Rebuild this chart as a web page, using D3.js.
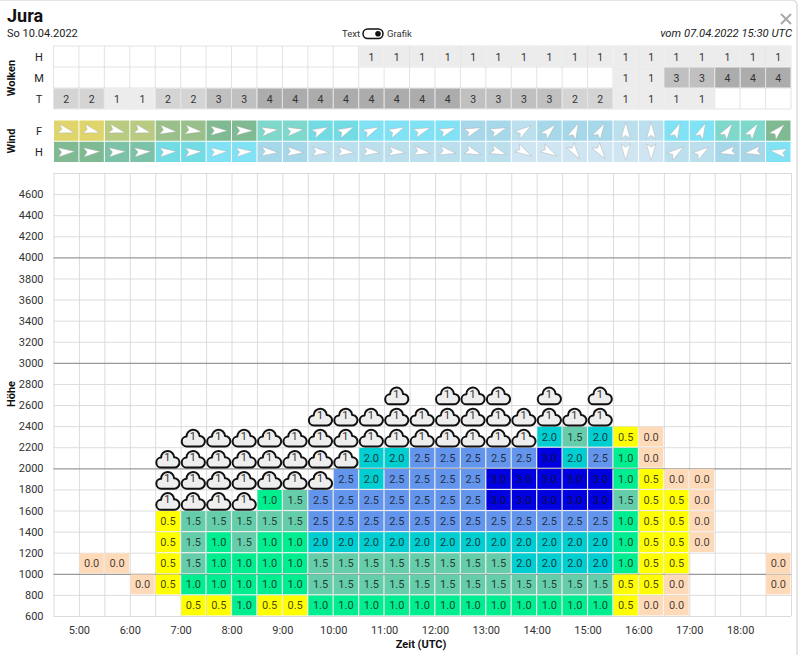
<!DOCTYPE html>
<html>
<head>
<meta charset="utf-8">
<script src="https://cdn.jsdelivr.net/npm/d3@7"></script>
<style>
  body { margin: 0; background: #fff; }
  text { font-family: Roboto, sans-serif; }
</style>
</head>
<body>
<script>
const w = 800;
const h = 655;
const n = null;
const C = "C"; // cell holds a cloud instead of a climb value

const hourTicks = [5, 6, 7, 8, 9, 10, 11, 12, 13, 14, 15, 16, 17, 18];
const heightTicks = d3.range(600, 4601, 200);
const heavyLines = [1000, 2000, 3000, 4000];

// clouds per half hour, 4:30 to 18:30
const cloudHigh = [n,n,n,n,n,n,n,n,n,n,n,n,1,1,1,1,1,1,1,1,1,1,1,1,1,1,1,1,1];
const cloudMid  = [n,n,n,n,n,n,n,n,n,n,n,n,n,n,n,n,n,n,n,n,n,n,1,1,3,3,4,4,4];
const cloudLow  = [2,2,1,1,2,2,3,3,4,4,4,4,4,4,4,4,3,3,3,3,2,2,1,1,1,1,n,n,n];

// wind class and direction (deg clockwise from east, the way the arrow points)
const windClassF = [10,10,9,9,8,8,7,7,6,6,5,5,4,4,4,4,3,3,2,3,3,3,2,2,4,4,6,6,7];
const windClassH = [7,7,6.5,6.5,5,5,4,4,3,3,2,2,2,2,2,2,2,2,1,1,1,1,1,1,2,2,3,3,4];
const windDirF = [15,15,15,15,8,8,0,0,-8,-8,-25,-25,-25,-25,-20,-20,-20,-20,-35,-45,-65,-60,-90,-90,-65,-65,-55,-55,-45];
const windDirH = [-3,-3,-3,-3,-3,-3,-3,-3,4,4,4,4,5,5,10,10,20,20,30,30,55,55,90,90,-35,-35,170,170,190];

const windClasses = [1, 2, 3, 4, 5, 6, 6.5, 7, 8, 9, 10];
const windColors = ["#cfe5f2", "#bcdfee", "#a6d8e9", "#80e2f4", "#72dbe4", "#7fd8cc", "#7cc2a6", "#7fba92", "#99c08a", "#b8cb80", "#e0d56a"];

const cloudGreys = d3.scaleOrdinal().domain([1, 2, 3, 4]).range(["#ececec", "#d4d4d4", "#c0c0c0", "#acacac"]);
const climbColor = d3.scaleOrdinal()
  .domain([0, 0.5, 1, 1.5, 2, 2.5, 3])
  .range(["#ffdab9", "#ffff00", "#00ee90", "#66cdaa", "#00ced1", "#6495ed", "#0000e0"]);

// climb per height band, bottom of the band -> values per half hour
const band600  = [n,n,n,n,n,.5,.5,1,.5,.5,1,1,1,1,1,1,1,1,1,1,1,1,.5,0,0,n,n,n,n];
const band800  = [n,n,n,0,.5,1,1,1,1,1,1.5,1.5,1.5,1.5,1.5,1.5,1.5,1.5,1.5,1.5,1.5,1.5,.5,.5,0,n,n,n,0];
const band1000 = [n,0,0,n,.5,1.5,1,1,1,1,1.5,1.5,1.5,1.5,1.5,1.5,1.5,1.5,2,2,2,2,1,.5,.5,n,n,n,0];
const band1200 = [n,n,n,n,.5,1.5,1,1.5,1,1,2,2,2,2,2,2,2,2,2,2,2,2,1,.5,.5,0,n,n,n];
const band1400 = [n,n,n,n,.5,1.5,1.5,1.5,1.5,1.5,2.5,2.5,2.5,2.5,2.5,2.5,2.5,2.5,2.5,2.5,2.5,2.5,1,.5,.5,0,n,n,n];
const band1600 = [n,n,n,n,C,C,C,C,1,1.5,2.5,2.5,2.5,2.5,2.5,2.5,2.5,3,3,3,3,3,1.5,.5,.5,0,n,n,n];
const band1800 = [n,n,n,n,C,C,C,C,C,C,C,2.5,2,2.5,2.5,2.5,2.5,3,3,3,3,3,1,.5,0,0,n,n,n];
const band2000 = [n,n,n,n,C,C,C,C,C,C,C,C,2,2,2.5,2.5,2.5,2.5,2.5,3,2,2.5,1,0,n,n,n,n,n];
const band2200 = [n,n,n,n,n,C,C,C,C,C,C,C,C,C,C,C,C,C,C,2,1.5,2,.5,0,n,n,n,n,n];
const band2400 = [n,n,n,n,n,n,n,n,n,n,C,C,C,C,C,C,C,C,C,C,C,C,n,n,n,n,n,n,n];
const band2600 = [n,n,n,n,n,n,n,n,n,n,n,n,n,C,n,C,C,C,n,C,n,C,n,n,n,n,n,n,n];
const bandBottoms = [600, 800, 1000, 1200, 1400, 1600, 1800, 2000, 2200, 2400, 2600];
const bands = [band600, band800, band1000, band1200, band1400, band1600, band1800, band2000, band2200, band2400, band2600];

const margin = {top: 173, right: 9, bottom: 39, left: 53.5};

const x = d3.scaleLinear().domain([4.5, 19]).range([margin.left, w - margin.right]);
const y = d3.scaleLinear().domain([600, 4800]).range([h - margin.bottom, margin.top]);
const colW = x(5) - x(4.5);
const halfHours = d3.range(4.5, 19.01, 0.5);

const svg = d3.select("body").append("svg")
  .attr("width", w)
  .attr("height", h)
  .style("display", "block");

// modal edge
svg.append("rect").attr("x", -6).attr("y", 0).attr("width", w + 3).attr("height", h + 20).attr("rx", 5)
  .attr("fill", "none").attr("stroke", "#ddd").attr("stroke-width", 1.5);

// header
svg.append("text").attr("x", 7).attr("y", 22).attr("font-size", 18).attr("font-weight", 700).attr("fill", "#111").text("Jura");
svg.append("text").attr("x", 7).attr("y", 37).attr("font-size", 11).attr("fill", "#222").text("So 10.04.2022");
svg.append("text").attr("x", 792).attr("y", 37).attr("text-anchor", "end").attr("font-size", 11.25).attr("font-style", "italic").attr("fill", "#222").text("vom 07.04.2022 15:30 UTC");
svg.append("text").attr("x", 342).attr("y", 37).attr("font-size", 9.5).attr("fill", "#333").text("Text");
svg.append("text").attr("x", 387).attr("y", 37).attr("font-size", 9.5).attr("fill", "#333").text("Grafik");
svg.append("rect").attr("x", 363).attr("y", 29).attr("width", 20).attr("height", 9.5).attr("rx", 4.7)
  .attr("fill", "#fff").attr("stroke", "#111").attr("stroke-width", 1.5);
svg.append("circle").attr("cx", 378).attr("cy", 33.7).attr("r", 2.8).attr("fill", "#111");
svg.append("path").attr("d", "M781,14L791,24M791,14L781,24").attr("stroke", "#aaa").attr("stroke-width", 2).attr("fill", "none");

// top tables
const rowY = d3.scaleBand().domain(["H", "M", "T"]).range([46, 109]);
const windY = d3.scaleBand().domain(["F", "H"]).range([120, 162.5]);

function tableGrid(top, bottom, rows) {
  const g = svg.append("g").attr("stroke", "#dcdcdc").attr("stroke-width", 0.8);
  g.selectAll("line.v").data(halfHours).join("line").attr("class", "v")
    .attr("x1", d => x(d)).attr("x2", d => x(d)).attr("y1", top).attr("y2", bottom);
  g.selectAll("line.h").data(rows).join("line").attr("class", "h")
    .attr("x1", x(4.5)).attr("x2", x(19)).attr("y1", d => d).attr("y2", d => d);
}
tableGrid(46, 109, [46, rowY("M"), rowY("T"), 109]);

[["H", cloudHigh], ["M", cloudMid], ["T", cloudLow]].forEach(([name, values]) => {
  const g = svg.append("g");
  const cells = values.map((v, i) => ({v, i})).filter(d => d.v !== n);
  g.selectAll("rect").data(cells).join("rect")
    .attr("x", d => x(4.5 + d.i / 2) + 0.5)
    .attr("y", rowY(name) + 0.5)
    .attr("width", colW - 1)
    .attr("height", rowY.bandwidth() - 1)
    .attr("fill", d => cloudGreys(d.v));
  g.selectAll("text").data(cells).join("text")
    .attr("x", d => x(4.5 + d.i / 2) + colW / 2)
    .attr("y", rowY(name) + rowY.bandwidth() / 2 + 4)
    .attr("text-anchor", "middle")
    .attr("font-size", 10.5)
    .attr("fill", "#333")
    .text(d => d.v);
});

const windColor = d3.scaleOrdinal().domain(windClasses).range(windColors);
const arrowPath = "M8.5,0L-8,-4.6L-4.6,0L-8,4.6Z";

[["F", windClassF, windDirF], ["H", windClassH, windDirH]].forEach(([name, classes, dirs]) => {
  const g = svg.append("g");
  const cells = classes.map((c, i) => ({c, i, dir: dirs[i]}));
  g.selectAll("rect").data(cells).join("rect")
    .attr("x", d => x(4.5 + d.i / 2) + 0.5)
    .attr("y", windY(name) + 0.5)
    .attr("width", colW - 1)
    .attr("height", windY.bandwidth() - 1)
    .attr("fill", d => windColor(d.c));
  g.selectAll("path").data(cells).join("path")
    .attr("d", arrowPath)
    .attr("transform", d => `translate(${x(4.5 + d.i / 2) + colW / 2},${windY(name) + windY.bandwidth() / 2}) rotate(${d.dir})`)
    .attr("fill", "#fff")
    .attr("stroke", "#aaa")
    .attr("stroke-width", 0.4);
});

// row names and titles
const sideLabels = svg.append("g").attr("font-size", 11).attr("fill", "#222").attr("text-anchor", "middle");
rowY.domain().forEach(d => sideLabels.append("text").attr("x", 39).attr("y", rowY(d) + rowY.bandwidth() / 2 + 4).text(d));
windY.domain().forEach(d => sideLabels.append("text").attr("x", 39).attr("y", windY(d) + windY.bandwidth() / 2 + 4).text(d));

[["Wolken", 78], ["Wind", 141], ["Höhe", 394]].forEach(([t, cy]) => {
  svg.append("text")
    .attr("transform", `translate(15,${cy}) rotate(-90)`)
    .attr("text-anchor", "middle")
    .attr("font-size", 11)
    .attr("font-weight", 700)
    .attr("fill", "#111")
    .text(t);
});

// main grid through the axes
const plotBottom = y(600);
const plotTop = y(4800);

const xGrid = svg.append("g").attr("transform", `translate(0,${plotBottom})`)
  .call(d3.axisBottom(x).tickValues(halfHours).tickSize(plotTop - plotBottom).tickFormat(""));
xGrid.select(".domain").remove();
xGrid.selectAll("line").attr("stroke", "#d8d8d8").attr("stroke-width", 0.9);

const yGrid = svg.append("g").attr("transform", `translate(${x(4.5)},0)`)
  .call(d3.axisRight(y).tickValues(d3.range(600, 4801, 200)).tickSize(x(19) - x(4.5)).tickFormat(""));
yGrid.select(".domain").remove();
yGrid.selectAll("line")
  .attr("stroke", d => heavyLines.includes(d) ? "#999" : "#d8d8d8")
  .attr("stroke-width", d => heavyLines.includes(d) ? 1.2 : 0.9);

// cells
const cellData = [];
bands.forEach((vals, b) => vals.forEach((v, i) => {
  if (v !== n) cellData.push({v, i, bottom: bandBottoms[b]});
}));
const climbCells = cellData.filter(d => d.v !== C);
const cloudCells = cellData.filter(d => d.v === C);

const cellG = svg.append("g");
cellG.selectAll("rect").data(climbCells).join("rect")
  .attr("x", d => x(4.5 + d.i / 2) + 0.6)
  .attr("y", d => y(d.bottom + 200) + 0.6)
  .attr("width", colW - 1.2)
  .attr("height", d => y(d.bottom) - y(d.bottom + 200) - 1.2)
  .attr("fill", d => climbColor(d.v));
cellG.selectAll("text").data(climbCells).join("text")
  .attr("x", d => x(4.5 + d.i / 2) + colW / 2)
  .attr("y", d => y(d.bottom + 100) + 4)
  .attr("text-anchor", "middle")
  .attr("font-size", 11)
  .attr("fill", "#111")
  .attr("fill-opacity", 0.8)
  .text(d => d.v.toFixed(1));

// clouds
const cloudPath = "M-6.5,9A5,5 0 0 1 -6.8,-1A6.5,6.5 0 0 1 6.2,-1.4A5.2,5.2 0 0 1 6.5,9Z";
const cloudG = svg.append("g");
cloudG.selectAll("path").data(cloudCells).join("path")
  .attr("d", cloudPath)
  .attr("transform", d => `translate(${x(4.5 + d.i / 2) + colW / 2},${y(d.bottom + 100) + 0.8})`)
  .attr("fill", "#eee")
  .attr("stroke", "#111")
  .attr("stroke-width", 2)
  .attr("stroke-linejoin", "round");
cloudG.selectAll("text").data(cloudCells).join("text")
  .attr("x", d => x(4.5 + d.i / 2) + colW / 2 - 0.5)
  .attr("y", d => y(d.bottom + 100) + 3)
  .attr("text-anchor", "middle")
  .attr("font-size", 11)
  .attr("fill", "#333")
  .text("1");

// axes
const xAxis = svg.append("g").attr("transform", `translate(0,${plotBottom})`)
  .call(d3.axisBottom(x).tickValues(hourTicks).tickSize(0).tickPadding(10).tickFormat(d => d + ":00"));
xAxis.select(".domain").remove();
xAxis.selectAll("text").attr("font-size", 11).attr("font-family", "Roboto, sans-serif").attr("fill", "#333");

const yAxis = svg.append("g").attr("transform", `translate(${x(4.5)},0)`)
  .call(d3.axisLeft(y).tickValues(heightTicks).tickSize(0).tickPadding(10));
yAxis.select(".domain").remove();
yAxis.selectAll("text").attr("font-size", 11).attr("font-family", "Roboto, sans-serif").attr("fill", "#333")
  .text(d => d);

svg.append("text").attr("x", 421).attr("y", 648).attr("text-anchor", "middle")
  .attr("font-size", 11).attr("font-weight", 700).attr("fill", "#111").text("Zeit (UTC)");
</script>
</body>
</html>
